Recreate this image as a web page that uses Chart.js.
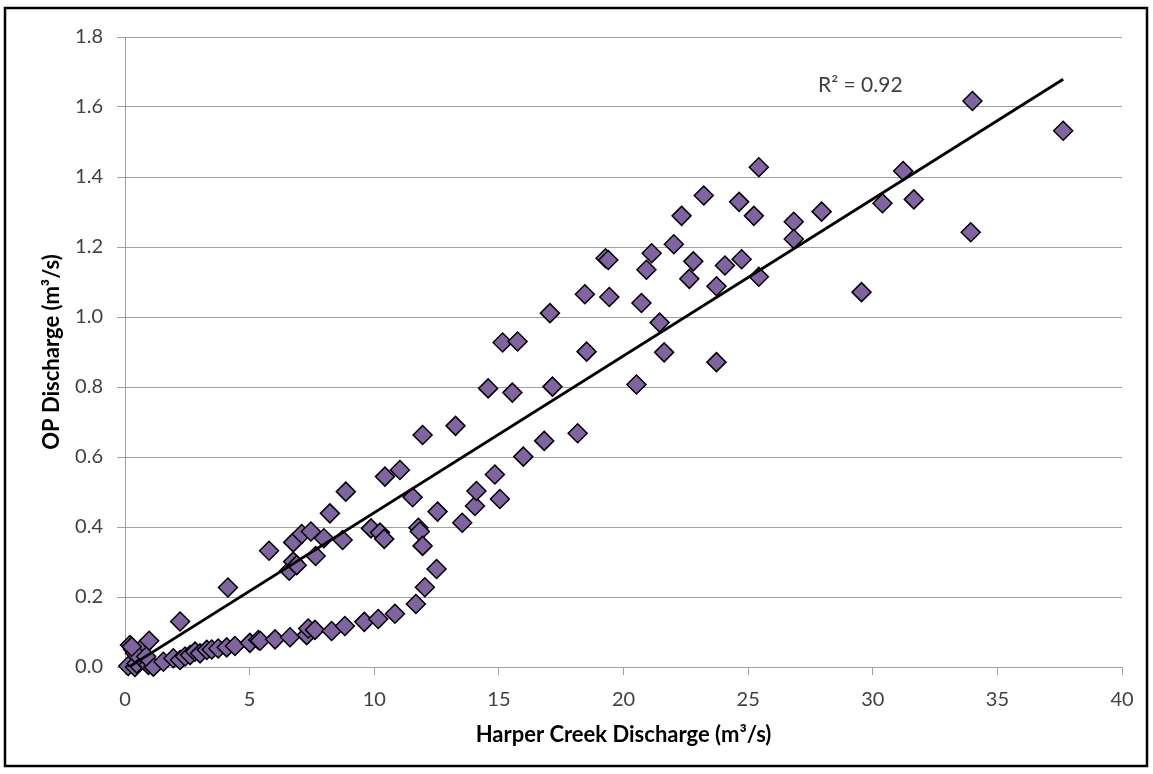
<!DOCTYPE html>
<html>
<head>
<meta charset="utf-8">
<script src="https://cdn.jsdelivr.net/npm/chart.js@4"></script>
<style>
  html, body { margin: 0; padding: 0; background: #fff; }
  #wrap { position: relative; width: 1153px; height: 774px; }
</style>
</head>
<body>
<div id="wrap"><canvas id="chart" width="1153" height="774"></canvas></div>
<script>
// Harper Creek discharge (x) vs OP discharge (y), m3/s
const harperQ = [
  0.13, 0.40, 0.47, 0.73, 0.94, 1.14, 1.54, 1.94, 2.21, 2.41,
  2.61, 2.81, 3.01, 3.28, 3.48, 3.74, 4.08, 4.41, 5.01, 5.35,
  5.42, 6.02, 6.62, 7.29, 7.35, 7.62, 8.29, 8.82, 9.60, 10.16,
  10.83, 11.67, 12.03, 12.50,
  0.20, 0.33, 0.67, 0.97, 0.40, 0.27, 0.85, 2.21, 4.13,
  5.78, 6.59, 6.75, 6.89, 6.75, 7.09, 7.46, 7.65, 7.98,
  8.22, 8.73, 8.86, 9.87, 10.23, 10.40, 10.43, 11.03, 11.54, 11.77,
  11.83, 11.94, 11.94, 12.54, 13.26, 13.53, 14.04, 14.10, 14.57, 14.84,
  15.04, 15.15, 15.54, 15.75, 15.98, 16.82, 17.05, 17.15, 18.16, 18.45,
  18.52, 19.28, 19.39, 19.43, 20.52, 20.72, 20.92, 21.13, 21.45, 21.63,
  22.02, 22.33, 22.64, 22.80, 23.22, 23.73, 23.73, 24.07, 24.64, 24.74,
  25.23, 25.43, 25.43, 26.83, 26.83, 27.95, 29.55, 30.39, 31.22, 31.65,
  33.93, 34.00, 37.64
];
const opQ = [
  0.003, 0.000, 0.010, 0.020, 0.006, 0.001, 0.015, 0.025, 0.020, 0.030,
  0.034, 0.044, 0.039, 0.049, 0.050, 0.053, 0.056, 0.060, 0.069, 0.077,
  0.075, 0.079, 0.085, 0.091, 0.110, 0.106, 0.103, 0.117, 0.129, 0.137,
  0.152, 0.180, 0.228, 0.280,
  0.063, 0.050, 0.053, 0.075, 0.040, 0.058, 0.030, 0.130, 0.227,
  0.332, 0.275, 0.301, 0.291, 0.356, 0.380, 0.387, 0.317, 0.368,
  0.439, 0.363, 0.501, 0.396, 0.384, 0.366, 0.544, 0.563, 0.485, 0.398,
  0.387, 0.346, 0.663, 0.444, 0.689, 0.412, 0.460, 0.503, 0.796, 0.550,
  0.480, 0.927, 0.784, 0.930, 0.601, 0.646, 1.011, 0.801, 0.668, 1.065,
  0.901, 1.168, 1.163, 1.057, 0.807, 1.040, 1.135, 1.182, 0.984, 0.899,
  1.208, 1.289, 1.109, 1.159, 1.347, 1.088, 0.871, 1.147, 1.329, 1.165,
  1.289, 1.428, 1.115, 1.272, 1.223, 1.301, 1.071, 1.325, 1.417, 1.336,
  1.242, 1.617, 1.532
];

const xTicks = [0, 5, 10, 15, 20, 25, 30, 35, 40];
const yTicks = [0, 0.2, 0.4, 0.6, 0.8, 1.0, 1.2, 1.4, 1.6, 1.8];

// linear trendline as shown on the chart
const trendSlope = 0.0448;
const trendIntercept = -0.007;
const r2Label = 'R² = 0.92';
const r2At = { x: 29.5, y: 1.663 };

const points = harperQ.map((x, i) => ({ x: x, y: opQ[i] }));
const xMin = Math.min(...harperQ);
const xMax = Math.max(...harperQ);
const trend = [xMin, xMax].map(x => ({ x: x, y: trendSlope * x + trendIntercept }));

const FONT = 'Lato, "Open Sans", sans-serif';
const GRID = '#a0a0a0';

const extras = {
  id: 'extras',
  afterDatasetsDraw(chart) {
    const ctx = chart.ctx;
    const xs = chart.scales.x, ys = chart.scales.y;
    ctx.save();
    ctx.font = '21px ' + FONT;
    ctx.fillStyle = '#404040';
    ctx.textAlign = 'center';
    ctx.textBaseline = 'middle';
    ctx.fillText(r2Label, xs.getPixelForValue(r2At.x), ys.getPixelForValue(r2At.y));
    ctx.restore();
  },
  afterDraw(chart) {
    const ctx = chart.ctx;
    ctx.save();
    ctx.strokeStyle = '#000';
    ctx.lineWidth = 2.5;
    ctx.strokeRect(5, 8, 1142, 758);
    ctx.restore();
  }
};

new Chart(document.getElementById('chart'), {
  type: 'scatter',
  data: {
    datasets: [
      {
        label: 'OP vs Harper',
        data: points,
        pointStyle: 'rectRot',
        pointRadius: 9.5,
        pointBackgroundColor: '#8064a2',
        pointBorderColor: '#000',
        pointBorderWidth: 1.5,
        clip: false,
        order: 2
      },
      {
        label: 'Linear',
        type: 'line',
        data: trend,
        borderColor: '#000',
        borderWidth: 2.8,
        pointRadius: 0,
        fill: false,
        order: 1
      }
    ]
  },
  options: {
    responsive: false,
    animation: false,
    devicePixelRatio: 1,
    layout: { padding: { top: 37, right: 31, left: 0, bottom: 0 } },
    plugins: {
      legend: { display: false },
      tooltip: { enabled: false }
    },
    scales: {
      x: {
        type: 'linear',
        min: 0,
        max: 40,
        afterBuildTicks: s => { s.ticks = xTicks.map(v => ({ value: v })); },
        afterFit: s => { s.height = 107; },
        ticks: { color: '#404040', font: { family: FONT, size: 20 }, padding: 13 },
        grid: { drawOnChartArea: false, drawTicks: true, tickLength: 8, color: GRID },
        border: { display: true, color: GRID, width: 1 },
        title: {
          display: true,
          text: 'Harper Creek Discharge (m³/s)',
          color: '#000',
          font: { family: FONT, size: 22, weight: 'bold' },
          padding: { top: 0, bottom: 26 }
        }
      },
      y: {
        min: 0,
        max: 1.8,
        afterBuildTicks: s => { s.ticks = yTicks.map(v => ({ value: v })); },
        afterFit: s => { s.width = 125; },
        ticks: { color: '#404040', font: { family: FONT, size: 20 }, padding: 14, callback: v => v.toFixed(1) },
        grid: { color: GRID, tickLength: 8 },
        border: { display: true, color: GRID, width: 1 },
        title: {
          display: true,
          text: 'OP Discharge (m³/s)',
          color: '#000',
          font: { family: FONT, size: 22, weight: 'bold' },
          padding: { top: 39, bottom: 0 }
        }
      }
    }
  },
  plugins: [extras]
});
</script>
</body>
</html>
